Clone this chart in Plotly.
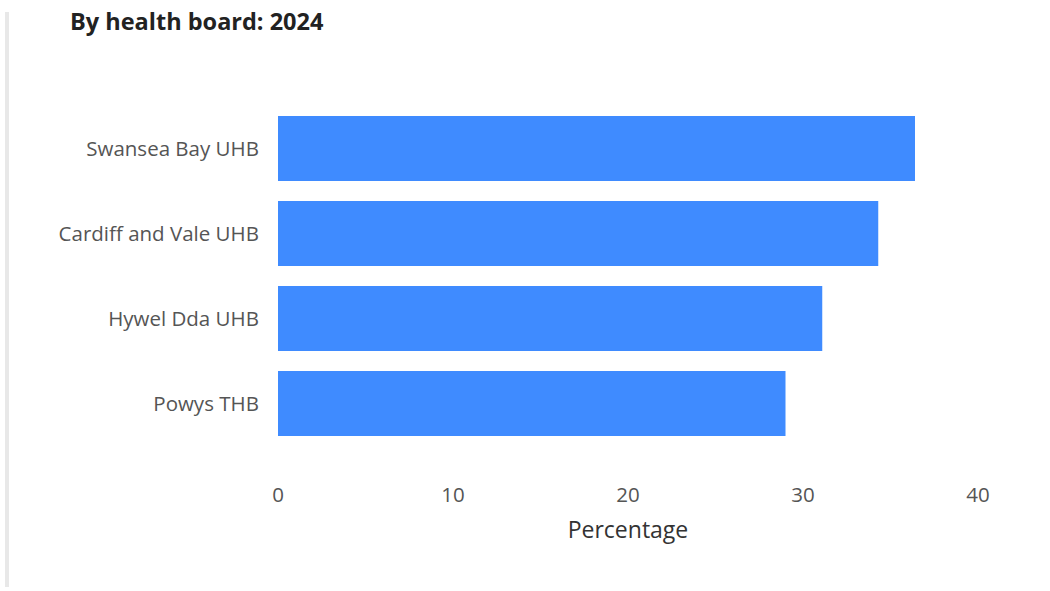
import plotly.graph_objects as go

boards = ["Swansea Bay UHB", "Cardiff and Vale UHB", "Hywel Dda UHB", "Powys THB"]
percentages = [36.4, 34.3, 31.1, 29.0]
x_ticks = [0, 10, 20, 30, 40]

fig = go.Figure(go.Bar(
    x=percentages, y=boards, orientation="h",
    marker=dict(color="#3f8bff", line=dict(width=0)),
    hovertemplate="%{y}: %{x}%<extra></extra>",
))

font_family = "Open Sans, Noto Sans, sans-serif"
fig.update_layout(
    width=1050, height=591,
    paper_bgcolor="white", plot_bgcolor="white",
    margin=dict(l=278, r=72, t=106, b=145),
    bargap=0.235,
    showlegend=False,
    title=dict(text="<b>By health board: 2024</b>", xref="container", yref="container",
               x=70/1050, y=1-22/591, xanchor="left", yanchor="middle",
               font=dict(family=font_family, size=23.5, color="#222")),
    font=dict(family=font_family, size=20.5, color="#555"),
)
fig.update_yaxes(categoryorder="array", categoryarray=boards[::-1],
                 showgrid=False, zeroline=False, showline=False,
                 ticks="outside", ticklen=14, tickcolor="rgba(0,0,0,0)",
                 tickfont=dict(size=20.5, color="#555"))
fig.update_xaxes(range=[0, 40], tickvals=x_ticks, showgrid=False, zeroline=False,
                 showline=False, ticks="outside", ticklen=30,
                 tickcolor="rgba(0,0,0,0)",
                 tickfont=dict(size=20.5, color="#555"),
                 title=dict(text="Percentage", standoff=15,
                            font=dict(size=23, color="#333")))
fig.add_shape(type="line", xref="paper", yref="paper",
              x0=-271/700, x1=-271/700, y0=1 + (106 - 12) / 340,
              y1=-(587 - 446) / 340, line=dict(color="#e8e8e8", width=4))

fig.write_html("out.html", config={"displayModeBar": False},
               post_script="document.body.style.margin='0';document.body.style.padding='0';")
